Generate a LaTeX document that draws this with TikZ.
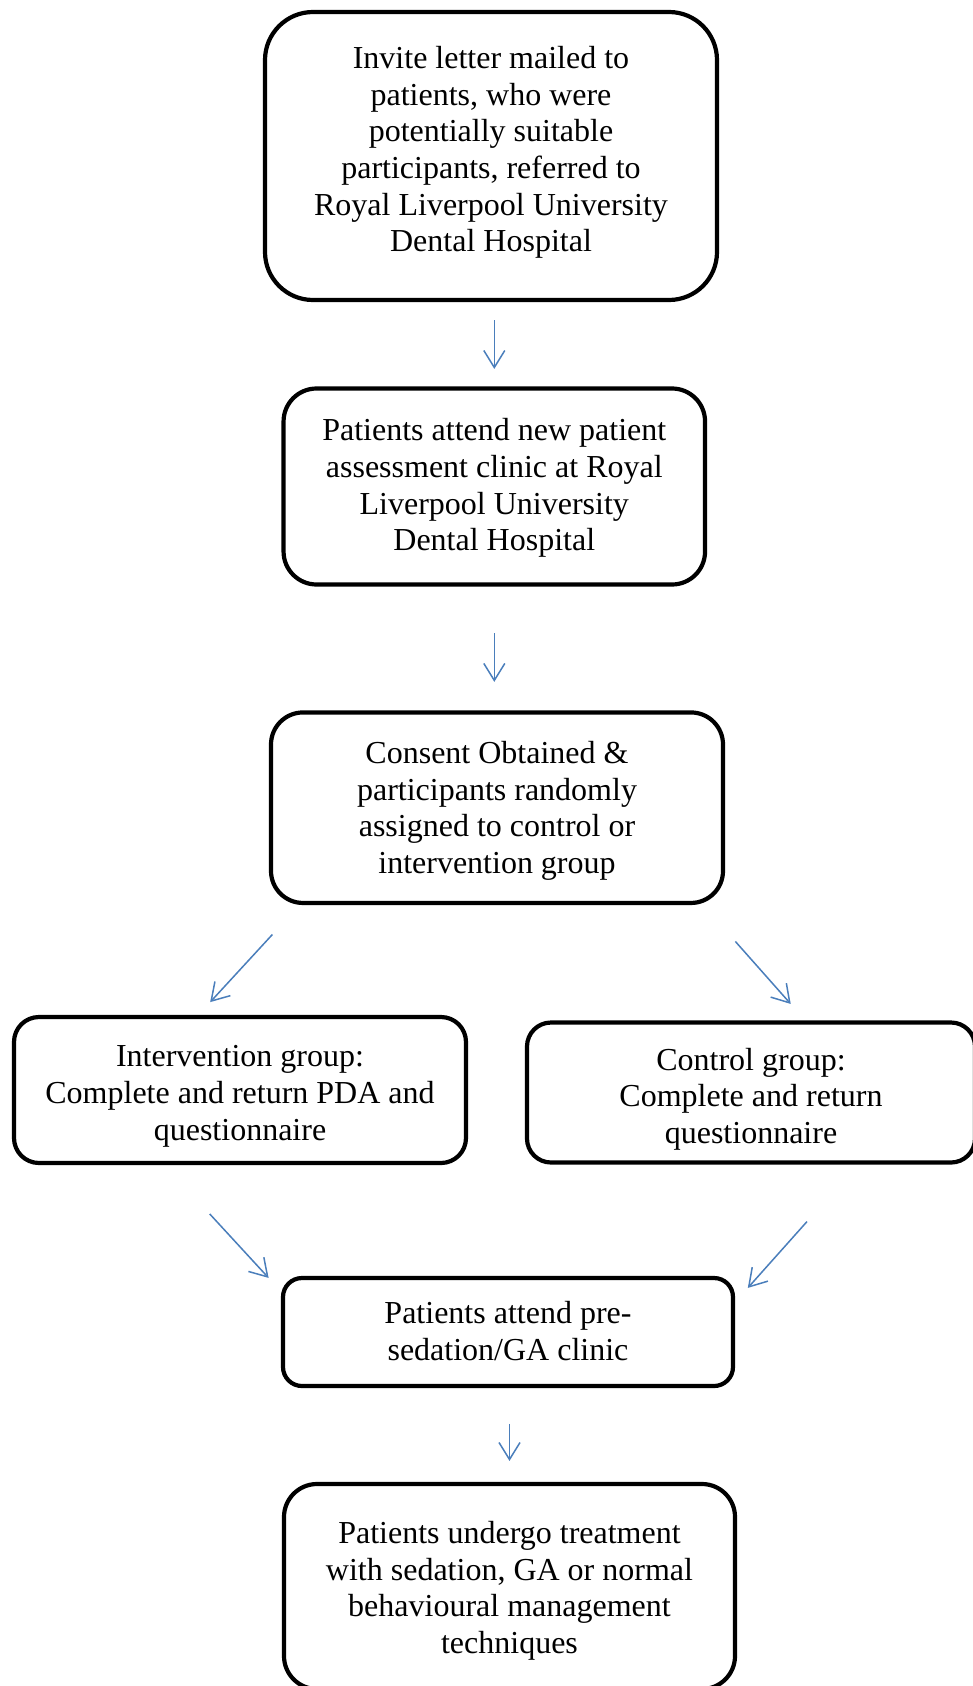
\documentclass[tikz,border=0pt]{standalone}
\usepackage{fontspec}
\setmainfont{Liberation Serif}
\usetikzlibrary{arrows.meta}
\definecolor{flowblue}{RGB}{74,126,187}
\begin{document}
\begin{tikzpicture}[x=1pt,y=-1pt,
    stage/.style={draw,line width=4.2pt,inner sep=0pt,align=center,text depth=7pt,
      font=\fontsize{32}{36.7}\selectfont},
    flow/.style={draw=flowblue,line width=1.5pt,-{Straight Barb[length=17pt,width=21pt]}}]
  \useasboundingbox (0,0) rectangle (972,1686);
  \node[stage,text height=198.6pt,minimum width=452pt,minimum height=288pt,rounded corners=48pt] (invite) at (491,156)
    {Invite letter mailed to\\patients, who were\\potentially suitable\\participants, referred to\\Royal Liverpool University\\Dental Hospital};
  \node[stage,text height=135.6pt,minimum width=421.5pt,minimum height=196pt,rounded corners=33pt] (assess) at (494.3,486.5)
    {Patients attend new patient\\assessment clinic at Royal\\Liverpool University\\Dental Hospital};
  \node[stage,text height=138.4pt,minimum width=452pt,minimum height=190.5pt,rounded corners=32pt] (consent) at (497,807.7)
    {Consent Obtained \&\\participants randomly\\assigned to control or\\intervention group};
  \node[stage,text height=107.2pt,minimum width=452pt,minimum height=146pt,rounded corners=25pt] (intervention) at (240,1090)
    {Intervention group:\\Complete and return PDA and\\questionnaire};
  \node[stage,text height=108.8pt,minimum width=448pt,minimum height=140pt,rounded corners=24pt] (control) at (751,1092.5)
    {Control group:\\Complete and return\\questionnaire};
  \node[stage,text height=63pt,minimum width=450pt,minimum height=108pt,rounded corners=19pt] (presed) at (508,1332)
    {Patients attend pre-\\sedation/GA clinic};
  \node[stage,text height=140.8pt,minimum width=451pt,minimum height=205pt,rounded corners=33pt] (treat) at (509.5,1586.5)
    {Patients undergo treatment\\with sedation, GA or normal\\behavioural management\\techniques};
  % arrows between the stages
  \draw[flow,shorten <=18pt,shorten >=17.5pt] (invite.south -| assess.north) -- (assess.north);
  \draw[flow,shorten <=46.5pt,shorten >=28.5pt] (assess.south) -- (consent.north -| assess.south);
  \draw[flow,shorten <=40pt,shorten >=17.4pt] ([xshift=30.6pt]consent.south west) -- ([xshift=186.5pt]intervention.north west);
  \draw[flow,shorten <=48.6pt,shorten >=22pt] ([xshift=-22pt]consent.south east) -- ([xshift=280.4pt]control.north west);
  \draw[flow,shorten <=66.4pt] ([xshift=152.9pt]intervention.south west) -- ([xshift=-12.3pt,yshift=-2pt]presed.north west);
  \draw[flow,shorten <=76.3pt] ([xshift=332.9pt]control.south west) -- ([xshift=12.7pt,yshift=-12pt]presed.north east);
  \draw[flow,shorten <=35.7pt,shorten >=21pt] (presed.south -| treat.north) -- (treat.north);
\end{tikzpicture}
\end{document}
